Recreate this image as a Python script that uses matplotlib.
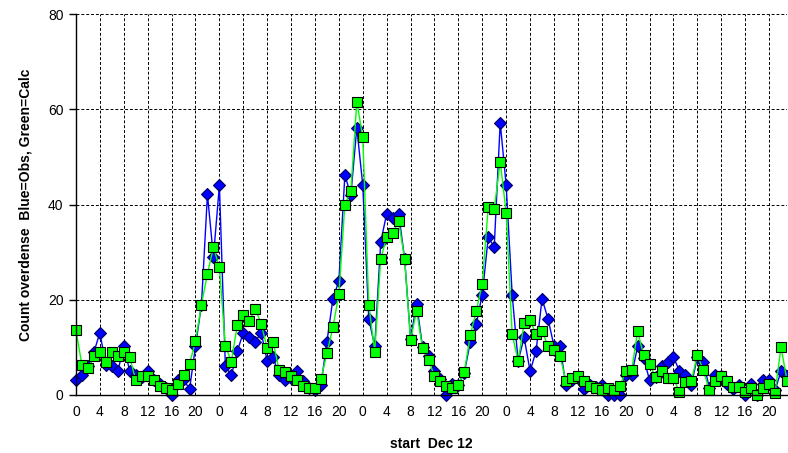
import numpy as np
import matplotlib
matplotlib.use("Agg")
import matplotlib.pyplot as plt

plt.rcParams['font.family'] = ['Liberation Sans', 'DejaVu Sans']

hours = list(range(120))

obs = [3.1, 4.1, 6.0, 9.0, 13.1, 6.2, 6.1, 5.0, 10.2, 5.0,
       4.2, 3.8, 5.1, 3.2, 2.4, 1.4, 0.0, 3.1, 3.3, 1.2,
       10.2, 19.0, 42.1, 29.0, 44.0, 6.1, 4.1, 9.2, 13.1, 12.1,
       11.2, 13.1, 7.1, 7.9, 4.1, 3.1, 3.5, 5.1, 3.0, 1.4,
       1.0, 2.1, 11.2, 20.2, 24.0, 46.2, 42.0, 56.1, 44.0, 16.0,
       10.2, 32.1, 38.1, 37.1, 38.1, 28.6, 11.8, 19.2, 10.1, 8.2,
       5.1, 3.3, 0.0, 2.4, 2.2, 4.7, 11.2, 15.0, 21.1, 33.1,
       31.1, 57.2, 44.0, 21.1, 7.1, 12.1, 5.0, 9.2, 20.2, 16.0,
       10.3, 10.2, 2.1, 3.2, 3.6, 1.2, 2.0, 1.6, 2.2, 0.0,
       0.0, 0.1, 4.3, 4.2, 10.2, 7.8, 3.1, 3.7, 6.0, 7.0,
       8.0, 5.0, 4.2, 2.1, 8.0, 7.0, 1.5, 4.2, 4.0, 2.3,
       1.2, 2.0, 0.0, 2.4, 0.0, 3.1, 3.1, 1.0, 5.0, 4.0]

calc = [13.6, 6.2, 5.7, 8.1, 9.1, 6.9, 9.1, 8.2, 9.1, 7.9,
        3.1, 4.0, 4.0, 3.1, 1.9, 1.5, 1.0, 2.3, 4.1, 6.5,
        11.3, 19.0, 25.5, 31.0, 26.8, 10.3, 7.0, 14.7, 16.9, 15.6,
        18.1, 14.9, 9.8, 11.1, 5.2, 4.9, 4.0, 3.1, 1.8, 1.5,
        1.5, 3.3, 8.8, 14.2, 21.2, 40.0, 42.8, 61.6, 54.1, 19.0,
        9.1, 28.6, 33.1, 34.1, 36.5, 28.6, 11.5, 17.7, 9.8, 7.3,
        4.0, 3.0, 1.8, 1.5, 2.2, 4.9, 12.6, 17.7, 23.4, 39.5,
        39.0, 49.0, 38.3, 12.8, 7.1, 15.1, 15.7, 12.8, 13.4, 10.3,
        9.4, 8.2, 3.0, 3.6, 3.9, 3.0, 1.9, 1.5, 1.0, 1.5,
        1.0, 1.8, 5.0, 5.2, 13.4, 8.4, 6.5, 3.7, 5.1, 3.5,
        3.5, 0.6, 2.7, 3.0, 8.4, 5.2, 1.0, 3.0, 4.0, 3.0,
        1.7, 1.7, 0.6, 1.4, 0.0, 1.5, 2.3, 0.4, 10.1, 3.0]

tick_pos = list(range(0, 120, 4))
tick_labels = [str(h % 24) for h in tick_pos]
y_ticks = [0, 20, 40, 60, 80]

fig = plt.figure(figsize=(7.88, 4.53), dpi=100)
ax = fig.add_axes([76 / 788, 1 - 395 / 453, 711 / 788, (395 - 14) / 453])

ax.plot(hours, obs, color='#0000FF', lw=1.0, marker='D', ms=6.5,
        mfc='#0000FF', mec='#000060', mew=0.8, zorder=3, clip_on=False)
ax.plot(hours, calc, color='#00FF00', lw=1.0, marker='s', ms=7.2,
        mfc='#00FF00', mec='#000000', mew=0.8, zorder=4, clip_on=False)

ax.set_xlim(0, 119)
ax.set_ylim(0, 80)
ax.set_xticks(tick_pos)
ax.set_xticklabels(tick_labels, fontsize=10)
ax.set_yticks(y_ticks)
ax.set_yticklabels([str(v) for v in y_ticks], fontsize=10)
ax.tick_params(axis='x', length=0, pad=7)
ax.tick_params(axis='y', length=5, width=1, pad=4, direction='out')

ax.grid(True, color='black', linestyle=(0, (3, 2)), linewidth=0.7)
ax.set_axisbelow(True)
for s in ['top', 'right']:
    ax.spines[s].set_visible(False)
for s in ['left', 'bottom']:
    ax.spines[s].set_linewidth(1.0)
    ax.spines[s].set_zorder(5)

ax.set_xlabel('start  Dec 12', fontsize=10, fontweight='bold', labelpad=13)
ax.set_ylabel('Count overdense  Blue=Obs, Green=Calc', fontsize=10,
              fontweight='bold', labelpad=11)

fig.savefig('out.png', dpi=100)
